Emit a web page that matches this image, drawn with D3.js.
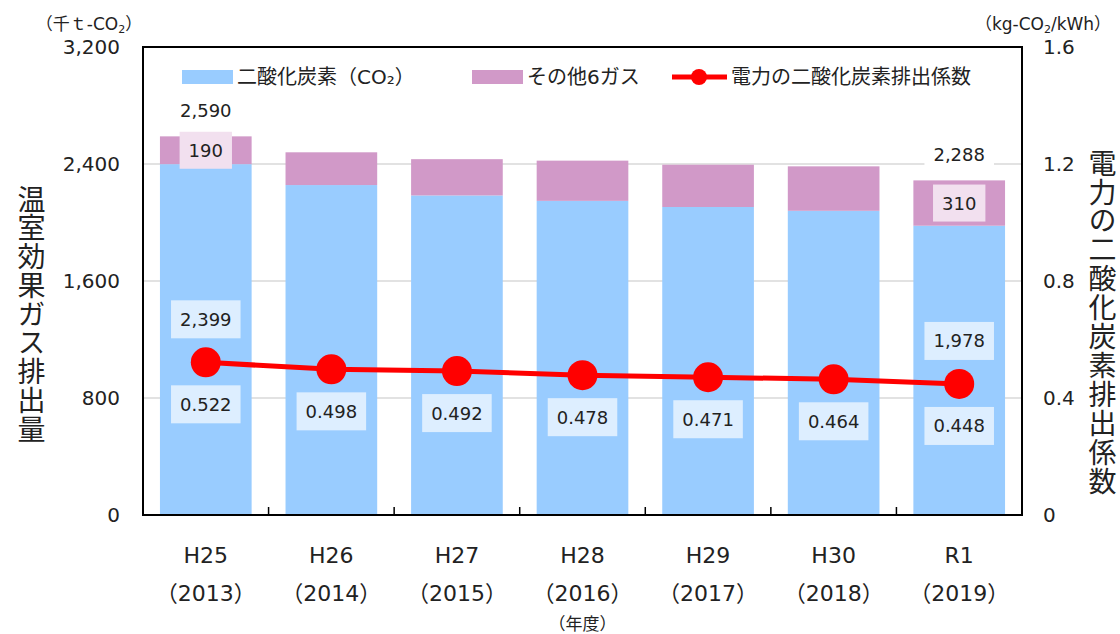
<!DOCTYPE html>
<html>
<head>
<meta charset="utf-8">
<script src="https://cdn.jsdelivr.net/npm/d3@7"></script>
<style>
body{margin:0;background:#fff;}
text{font-family:"DejaVu Sans","Noto Sans CJK JP",sans-serif;fill:#222;}
.vtitle{writing-mode:vertical-rl;text-orientation:upright;}
</style>
</head>
<body>
<svg id="chart"></svg>
<script>
//data
var categories = ["H25","H26","H27","H28","H29","H30","R1"]
var years = ["（2013）","（2014）","（2015）","（2016）","（2017）","（2018）","（2019）"]
var co2 = [2399,2256,2185,2148,2106,2080,1978]
var others = [190,224,248,275,289,304,310]
var totals = [2590,2480,2433,2423,2395,2384,2288]
var factor = [0.522,0.498,0.492,0.478,0.471,0.464,0.448]
var leftTicks = [0,800,1600,2400,3200]
var rightTicks = [0,0.4,0.8,1.2,1.6]
var labelled = [0,6]   //bars that carry value labels

var screen = {width:1120,height:634}
var margins = {left:143,right:98,top:47,bottom:119}
var graph = {
    width:screen.width-margins.left-margins.right,
    height:screen.height-margins.top-margins.bottom
}

var svg = d3.select("#chart")
    .attr("width",screen.width)
    .attr("height",screen.height)

var target = svg.append("g")
    .attr("transform","translate("+margins.left+","+margins.top+")")

var xScale = d3.scaleBand()
    .domain(categories)
    .range([0,graph.width])
    .paddingInner(0.27)
    .paddingOuter(0.135)
var yScale = d3.scaleLinear()
    .domain([0,3200])
    .range([graph.height,0])
var y2Scale = d3.scaleLinear()
    .domain([0,1.6])
    .range([graph.height,0])

var fmt = d3.format(",")

//gridlines
target.append("g")
    .selectAll("line")
    .data(leftTicks.slice(1,4))
    .enter()
    .append("line")
    .attr("x1",0)
    .attr("x2",graph.width)
    .attr("y1",function(d){return yScale(d)})
    .attr("y2",function(d){return yScale(d)})
    .attr("stroke","#d9d9d9")
    .attr("stroke-width",1.5)

//bars
var bars = target.append("g")
bars.selectAll(".co2")
    .data(categories)
    .enter()
    .append("rect")
    .attr("x",function(c){return xScale(c)})
    .attr("width",xScale.bandwidth())
    .attr("y",function(c,i){return yScale(co2[i])})
    .attr("height",function(c,i){return graph.height-yScale(co2[i])})
    .attr("fill","#99ccff")
bars.selectAll(".oth")
    .data(categories)
    .enter()
    .append("rect")
    .attr("x",function(c){return xScale(c)})
    .attr("width",xScale.bandwidth())
    .attr("y",function(c,i){return yScale(co2[i]+others[i])})
    .attr("height",function(c,i){return yScale(co2[i])-yScale(co2[i]+others[i])})
    .attr("fill","#d199c8")

//frame + bottom ticks
target.append("rect")
    .attr("width",graph.width)
    .attr("height",graph.height)
    .attr("fill","none")
    .attr("stroke","#000")
    .attr("stroke-width",2)
target.append("g")
    .selectAll("line")
    .data(categories.slice(1))
    .enter()
    .append("line")
    .attr("x1",function(c){return xScale(c)-xScale.step()*xScale.paddingInner()/2})
    .attr("x2",function(c){return xScale(c)-xScale.step()*xScale.paddingInner()/2})
    .attr("y1",graph.height)
    .attr("y2",graph.height-8)
    .attr("stroke","#000")
    .attr("stroke-width",1.5)

//axes labels (left / right)
var leftAxis = d3.axisLeft(yScale).tickValues(leftTicks).tickFormat(fmt).tickSize(0).tickPadding(23)
var rightAxis = d3.axisRight(y2Scale).tickValues(rightTicks).tickFormat(d3.format(".1~f")).tickSize(0).tickPadding(21)
var la = target.append("g").call(leftAxis)
var ra = target.append("g").attr("transform","translate("+graph.width+",0)").call(rightAxis)
la.select(".domain").remove()
ra.select(".domain").remove()
la.selectAll("text").attr("font-size",20).attr("font-family",null).attr("fill","#222")
ra.selectAll("text").attr("font-size",20).attr("font-family",null).attr("fill","#222")

//category labels
var xl = target.append("g").attr("transform","translate(0,"+graph.height+")")
xl.selectAll(".cat")
    .data(categories)
    .enter()
    .append("text")
    .text(function(c){return c})
    .attr("x",function(c){return xScale(c)+xScale.bandwidth()/2})
    .attr("y",40)
    .attr("text-anchor","middle")
    .attr("dominant-baseline","central")
    .attr("font-size",22)
xl.selectAll(".yr")
    .data(years)
    .enter()
    .append("text")
    .text(function(c){return c})
    .attr("x",function(c,i){return xScale(categories[i])+xScale.bandwidth()/2})
    .attr("y",78)
    .attr("text-anchor","middle")
    .attr("dominant-baseline","central")
    .attr("font-size",22)
xl.append("text")
    .text("（年度）")
    .attr("x",xScale("H28")+xScale.bandwidth()/2)
    .attr("y",109)
    .attr("text-anchor","middle")
    .attr("dominant-baseline","central")
    .attr("font-size",17)

//line
var line = d3.line()
    .x(function(d,i){return xScale(categories[i])+xScale.bandwidth()/2})
    .y(function(d){return y2Scale(d)})
target.append("path")
    .datum(factor)
    .attr("d",line)
    .attr("fill","none")
    .attr("stroke","#ff0000")
    .attr("stroke-width",5)
target.append("g")
    .selectAll("circle")
    .data(factor)
    .enter()
    .append("circle")
    .attr("cx",function(d,i){return xScale(categories[i])+xScale.bandwidth()/2})
    .attr("cy",function(d){return y2Scale(d)})
    .attr("r",15)
    .attr("fill","#ff0000")

//boxed value labels
var drawBoxLabel = function(g,txt,x,y,bg,h)
{
    var lab = g.append("g")
    var box = lab.append("rect").attr("fill",bg)
    var t = lab.append("text")
        .text(txt)
        .attr("x",x)
        .attr("y",y)
        .attr("text-anchor","middle")
        .attr("dominant-baseline","central")
        .attr("font-size",18)
    var w = t.node().getComputedTextLength()+18
    box.attr("x",x-w/2).attr("y",y-h/2).attr("width",w).attr("height",h)
}
var labels = target.append("g")
factor.forEach(function(d,i){
    var cx = xScale(categories[i])+xScale.bandwidth()/2
    drawBoxLabel(labels,d3.format(".3f")(d),cx,y2Scale(d)+42,"#ddeeff",38)
})
labelled.forEach(function(i){
    var cx = xScale(categories[i])+xScale.bandwidth()/2
    drawBoxLabel(labels,fmt(co2[i]),cx,y2Scale(factor[i])-43,"#ddeeff",38)
    drawBoxLabel(labels,fmt(others[i]),cx,(yScale(co2[i])+yScale(co2[i]+others[i]))/2,"#f2e0ef",37)
    drawBoxLabel(labels,fmt(totals[i]),cx,yScale(co2[i]+others[i])-26,"#fff",24)
})

//legend
var legend = target.append("g").attr("transform","translate(0,30)")
var entries = [
    {name:"二酸化炭素（CO₂）",color:"#99ccff",x:39},
    {name:"その他6ガス",color:"#d199c8",x:329}
]
entries.forEach(function(e){
    legend.append("rect").attr("x",e.x).attr("y",-7).attr("width",51).attr("height",14).attr("fill",e.color)
    legend.append("text").text(e.name).attr("x",e.x+55).attr("y",0)
        .attr("dominant-baseline","central").attr("font-size",20)
})
legend.append("line").attr("x1",529).attr("x2",584).attr("y1",0).attr("y2",0)
    .attr("stroke","#ff0000").attr("stroke-width",5)
legend.append("circle").attr("cx",556).attr("cy",0).attr("r",8).attr("fill","#ff0000")
legend.append("text").text("電力の二酸化炭素排出係数").attr("x",588).attr("y",0)
    .attr("dominant-baseline","central").attr("font-size",20)

//units
var u1 = svg.append("text").attr("x",89).attr("y",24).attr("text-anchor","middle")
    .attr("dominant-baseline","central").attr("font-size",17)
u1.append("tspan").text("（千ｔ-CO")
u1.append("tspan").text("2").attr("font-size",11).attr("dy",5)
u1.append("tspan").text("）").attr("dy",-5)
var u2 = svg.append("text").attr("x",1043).attr("y",24).attr("text-anchor","middle")
    .attr("dominant-baseline","central").attr("font-size",17)
u2.append("tspan").text("（kg-CO")
u2.append("tspan").text("2").attr("font-size",11).attr("dy",5)
u2.append("tspan").text("/kWh）").attr("dy",-5)

//vertical titles, one text each
var vertical = function(str,x,yTop,spacing)
{
    svg.append("text")
        .classed("vtitle",true)
        .text(str)
        .attr("x",x)
        .attr("y",yTop)
        .attr("font-size",28)
        .attr("letter-spacing",spacing)
}
vertical("温室効果ガス排出量",29,185,0.75)
vertical("電力の二酸化炭素排出係数",1100,149,0.9)
</script>
</body>
</html>
